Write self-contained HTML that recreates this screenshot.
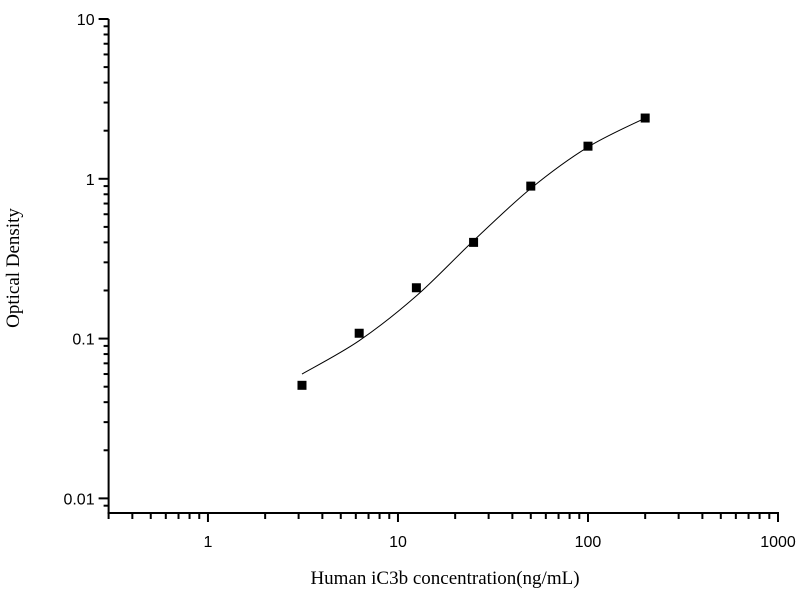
<!DOCTYPE html>
<html><head><meta charset="utf-8"><style>
html,body{margin:0;padding:0;background:#fff;}
svg{display:block;}
.tk{font-family:"Liberation Sans",sans-serif;font-size:16px;fill:#000;}
.tt{font-family:"Liberation Serif",serif;font-size:19px;fill:#000;}
</style></head><body>
<svg id="chart" width="800" height="600" xmlns="http://www.w3.org/2000/svg">
<g id="axes"></g>
<g id="curve"></g>
<g id="pts"></g>
<text class="tt" x="445" y="584" text-anchor="middle">Human iC3b concentration(ng/mL)</text>
<text class="tt" x="0" y="0" text-anchor="middle" transform="translate(19,268) rotate(-90)">Optical Density</text>
</svg>
<script>
const concentrations=[3.125,6.25,12.5,25,50,100,200];
const odValues=[0.051,0.108,0.208,0.40,0.90,1.60,2.40];
const curveValues=[0.060,0.097,0.185,0.41,0.87,1.58,2.40];
const xTickLabels=["1","10","100","1000"];
const yTickLabels=["0.01","0.1","1","10"];
const X0=108.6,X1=778,XMIN=0.3,XMAX=1000;
const Y0=513,Y1=19,YMIN=0.0081,YMAX=10;
const NS="http://www.w3.org/2000/svg";
function xs(v){return X0+(Math.log10(v)-Math.log10(XMIN))/(Math.log10(XMAX)-Math.log10(XMIN))*(X1-X0);}
function ys(v){return Y0-(Math.log10(v)-Math.log10(YMIN))/(Math.log10(YMAX)-Math.log10(YMIN))*(Y0-Y1);}
function mk(t,a,p){const e=document.createElementNS(NS,t);for(const k in a)e.setAttribute(k,a[k]);p.appendChild(e);return e;}
const ax=document.getElementById('axes');
let l=mk('line',{x1:X0,y1:Y1,x2:X0,y2:Y0+1,stroke:'#000','stroke-width':2},ax);


l=mk('line',{x1:X0-1,y1:Y0,x2:X1+1,y2:Y0,stroke:'#000','stroke-width':2},ax);


// x ticks
for(let d=-1;d<3;d++){for(let m=1;m<10;m++){const v=m*Math.pow(10,d);if(v<XMIN-1e-9)continue;const x=xs(v);const maj=m===1;
const t=mk('line',{x1:x,y1:Y0,x2:x,y2:Y0+(maj?9:6),stroke:'#000','stroke-width':2},ax);

}}
{const t=mk('line',{x1:xs(1000),y1:Y0,x2:xs(1000),y2:Y0+9,stroke:'#000','stroke-width':2},ax);

}
xTickLabels.forEach(s=>{const t=mk('text',{x:xs(+s),y:Y0+34,'text-anchor':'middle','class':'tk'},ax);t.textContent=s;

});
// y ticks
for(let d=-3;d<1;d++){for(let m=1;m<10;m++){const v=m*Math.pow(10,d);if(v<YMIN||v>YMAX)continue;const y=ys(v);const maj=m===1;
const t=mk('line',{x1:X0,y1:y,x2:X0-(maj?10:5),y2:y,stroke:'#000','stroke-width':2},ax);

}}
{const t=mk('line',{x1:X0,y1:ys(10),x2:X0-10,y2:ys(10),stroke:'#000','stroke-width':2},ax);

}
yTickLabels.forEach(s=>{const t=mk('text',{x:X0-14,y:ys(+s)+6,'text-anchor':'end','class':'tk'},ax);t.textContent=s;

});
// curve: Catmull-Rom through log-space points
const P=concentrations.map((c,i)=>[xs(c),ys(curveValues[i])]);
let d='M'+P[0][0]+','+P[0][1];
for(let i=0;i<P.length-1;i++){const p0=P[Math.max(0,i-1)],p1=P[i],p2=P[i+1],p3=P[Math.min(P.length-1,i+2)];
d+=' C'+(p1[0]+(p2[0]-p0[0])/6)+','+(p1[1]+(p2[1]-p0[1])/6)+' '+(p2[0]-(p3[0]-p1[0])/6)+','+(p2[1]-(p3[1]-p1[1])/6)+' '+p2[0]+','+p2[1];}
const cv=mk('path',{d:d,fill:'none',stroke:'#000','stroke-width':1},document.getElementById('curve'));


const pg=document.getElementById('pts');
concentrations.forEach((c,i)=>{const r=mk('rect',{x:xs(c)-4.5,y:ys(odValues[i])-4.5,width:9,height:9,fill:'#000'},pg);

});
</script>
</body></html>
